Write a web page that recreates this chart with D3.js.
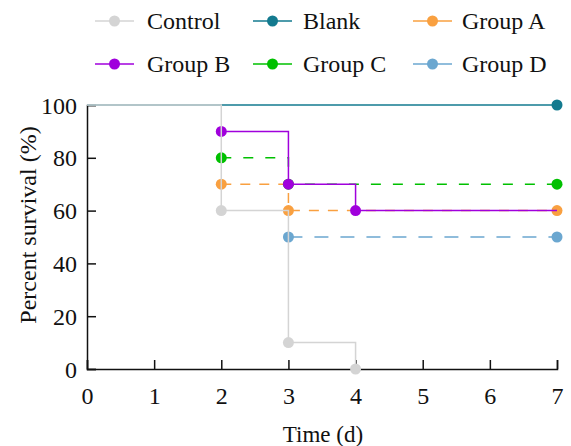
<!DOCTYPE html>
<html><head><meta charset="utf-8">
<script src="https://cdn.jsdelivr.net/npm/d3@7"></script>
<style>body{margin:0;background:#fff}svg{display:block}text{font-family:"Liberation Serif","Times New Roman",serif;fill:#111}</style>
</head><body>
<svg id="c" width="571" height="446"></svg>
<script>
// ---- data ----
const seriesNames = ["Control","Blank","Group A","Group B","Group C","Group D"];
const seriesColors = ["#d4d4d4","#137a8f","#f9a040","#a000dc","#00c000","#6ba7d0"];
const controlTime = [0,2,3,4];   const controlSurv = [100,60,10,0];   const controlMarks = [2,3,4];
const blankTime   = [0,7];       const blankSurv   = [100,100];       const blankMarks   = [7];
const groupATime  = [2,3,7];     const groupASurv  = [70,60,60];      const groupAMarks  = [2,3,7];
const groupBTime  = [2,3,4,7];   const groupBSurv  = [90,70,60,60];   const groupBMarks  = [2,3,4];
const groupCTime  = [2,3,7];     const groupCSurv  = [80,70,70];      const groupCMarks  = [2,3,7];
const groupDTime  = [3,7];       const groupDSurv  = [50,50];         const groupDMarks  = [3,7];
const xTicks = [0,1,2,3,4,5,6,7];
const yTicks = [0,20,40,60,80,100];

// ---- layout ----
const svg = d3.select("#c");
const x = d3.scaleLinear().domain([0,7]).range([87,557]);
const y = d3.scaleLinear().domain([0,100]).range([369,105]);

function mk(time, surv, marks, dash){ return {pts: time.map((t,i)=>({t, v:surv[i]})), marks: marks.map(t=>({t, v:surv[time.indexOf(t)]})), dash}; }
const S = {
  "Control": mk(controlTime, controlSurv, controlMarks, null),
  "Blank":   mk(blankTime, blankSurv, blankMarks, null),
  "Group A": mk(groupATime, groupASurv, groupAMarks, "10,9"),
  "Group B": mk(groupBTime, groupBSurv, groupBMarks, null),
  "Group C": mk(groupCTime, groupCSurv, groupCMarks, "10,12"),
  "Group D": mk(groupDTime, groupDSurv, groupDMarks, "14,12"),
};
const color = n => seriesColors[seriesNames.indexOf(n)];
const line = d3.line().x(d=>x(d.t)).y(d=>y(d.v)).curve(d3.curveStepAfter);

// axes
const gx = svg.append("g").attr("transform",`translate(0,${y(0)})`)
  .call(d3.axisBottom(x).tickValues(xTicks).tickSize(-9).tickPadding(18).tickFormat(d3.format("d")));
const gy = svg.append("g").attr("transform",`translate(${x(0)},0)`)
  .call(d3.axisLeft(y).tickValues(yTicks).tickSize(-9).tickPadding(10).tickFormat(d3.format("d")));
[gx,gy].forEach(g=>{
  g.select(".domain").attr("stroke","#111").attr("stroke-width",1.5);
  g.selectAll(".tick line").attr("stroke","#111").attr("stroke-width",1.5);
  g.selectAll(".tick text").style("font-family",'"Liberation Serif",serif').style("font-size","24px").attr("fill","#111");
});
gx.selectAll(".tick text").attr("dy","0.71em");
gy.selectAll(".tick text").attr("dy","0.34em");

// series
const order = ["Group D","Group A","Group C","Group B","Blank"];
order.forEach(n=>{
  const s = S[n];
  svg.append("path").attr("d",line(s.pts)).attr("fill","none").attr("stroke",color(n))
    .attr("stroke-width",1.5).attr("stroke-dasharray",s.dash);
  svg.selectAll(null).data(s.marks).join("circle").attr("cx",d=>x(d.t)).attr("cy",d=>y(d.v)).attr("r",5.5).attr("fill",color(n));
});
// control on top
svg.append("path").attr("d",line(S["Control"].pts)).attr("fill","none").attr("stroke",color("Control")).attr("stroke-width",1.5);
svg.selectAll(null).data(S["Control"].marks).join("circle").attr("cx",d=>x(d.t)).attr("cy",d=>y(d.v)).attr("r",5.5).attr("fill",color("Control"));

// axis titles
svg.append("text").attr("x",323).attr("y",442).attr("text-anchor","middle").style("font-size","23px").text("Time (d)");
svg.append("text").attr("transform","translate(36,225) rotate(-90)").attr("text-anchor","middle").style("font-size","24px").text("Percent survival (%)");

// legend
const legCols = [95,253,413], legRows = [21,64], legText = [147,303,462];
seriesNames.forEach((n,i)=>{
  const c = i%3, r = Math.floor(i/3);
  const g = svg.append("g");
  g.append("line").attr("x1",legCols[c]).attr("x2",legCols[c]+39).attr("y1",legRows[r]).attr("y2",legRows[r]).attr("stroke",color(n)).attr("stroke-width",1.5);
  g.append("circle").attr("cx",legCols[c]+19.5).attr("cy",legRows[r]).attr("r",5.5).attr("fill",color(n));
  g.append("text").attr("x",legText[c]).attr("y",legRows[r]).attr("dy","0.33em").style("font-size","24px").text(n);
});
</script>
</body></html>
